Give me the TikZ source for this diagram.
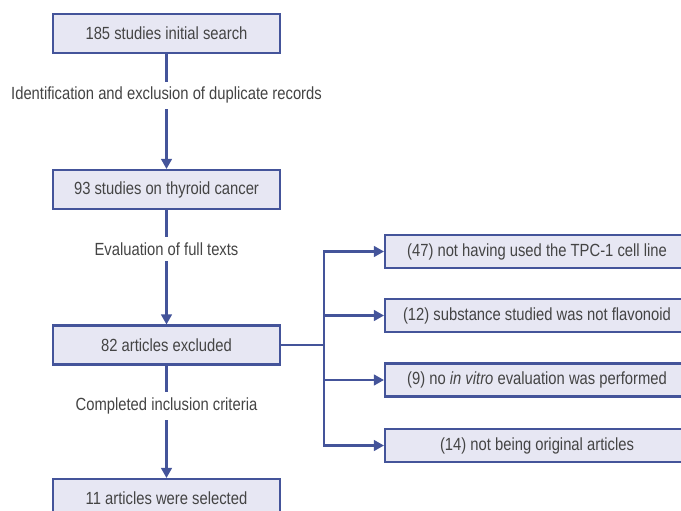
\documentclass[tikz,border=0pt]{standalone}
\usepackage{fontspec}
\setmainfont{Liberation Sans}[FakeStretch=0.84]
\usepackage{xcolor}
\usetikzlibrary{arrows.meta, positioning}
\definecolor{boxline}{HTML}{44549A}
\definecolor{boxfill}{HTML}{E7E7F3}
\definecolor{txt}{HTML}{444444}
\tikzset{
    box/.style={draw=boxline, fill=boxfill, line width=1.6pt, text=txt, font=\fontsize{13.2}{15}\selectfont, inner sep=0pt},
    mainbox/.style={box, minimum width=227*0.75pt, minimum height=39*0.75pt},
    sidebox/.style={box, minimum width=304*0.75pt, minimum height=33*0.75pt},
    flow/.style={draw=boxline, line width=1.6pt, -{Triangle[width=8pt,length=7.5pt]}},
    steplabel/.style={fill=white, text=txt, font=\fontsize{13.2}{15}\selectfont, inner xsep=2pt, inner ysep=4pt}
}
\begin{document}
\begin{tikzpicture}[x=0.75pt, y=-0.75pt]
    \useasboundingbox (0,0) rectangle (681,510);
    \clip (0,0) rectangle (681,510);
    % left column
    \node[mainbox] (init) at (166.5, 33.5) {185 studies initial search};
    \node[mainbox] (thyroid) at (166.5, 189.5) {93 studies on thyroid cancer};
    \node[mainbox] (excluded) at (166.5, 345) {82 articles excluded};
    \node[mainbox] (selected) at (166.5, 498.5) {11 articles were selected};
    \draw[flow] (init) -- node[steplabel, pos=0.36]{Identification and exclusion of duplicate records} (thyroid);
    \draw[flow] (thyroid) -- node[steplabel, pos=0.34]{Evaluation of full texts} (excluded);
    \draw[flow] (excluded) -- node[steplabel, pos=0.36]{Completed inclusion criteria} (selected);
    % reasons for exclusion
    \node[sidebox] (tpc) at (537, 251.5) {(47) not having used the TPC-1 cell line};
    \node[sidebox] (flav) at (537, 315.5) {(12) substance studied was not flavonoid};
    \node[sidebox] (vitro) at (537, 380) {(9) no \textit{in vitro} evaluation was performed};
    \node[sidebox] (orig) at (537, 445.5) {(14) not being original articles};
    \coordinate (split) at (324, 345);
    \draw[draw=boxline, line width=1.6pt] (excluded.east) -- (split);
    \draw[flow] (split) |- (tpc.west);
    \draw[flow] (split) |- (flav.west);
    \draw[flow] (split) |- (vitro.west);
    \draw[flow] (split) |- (orig.west);
\end{tikzpicture}
\end{document}
